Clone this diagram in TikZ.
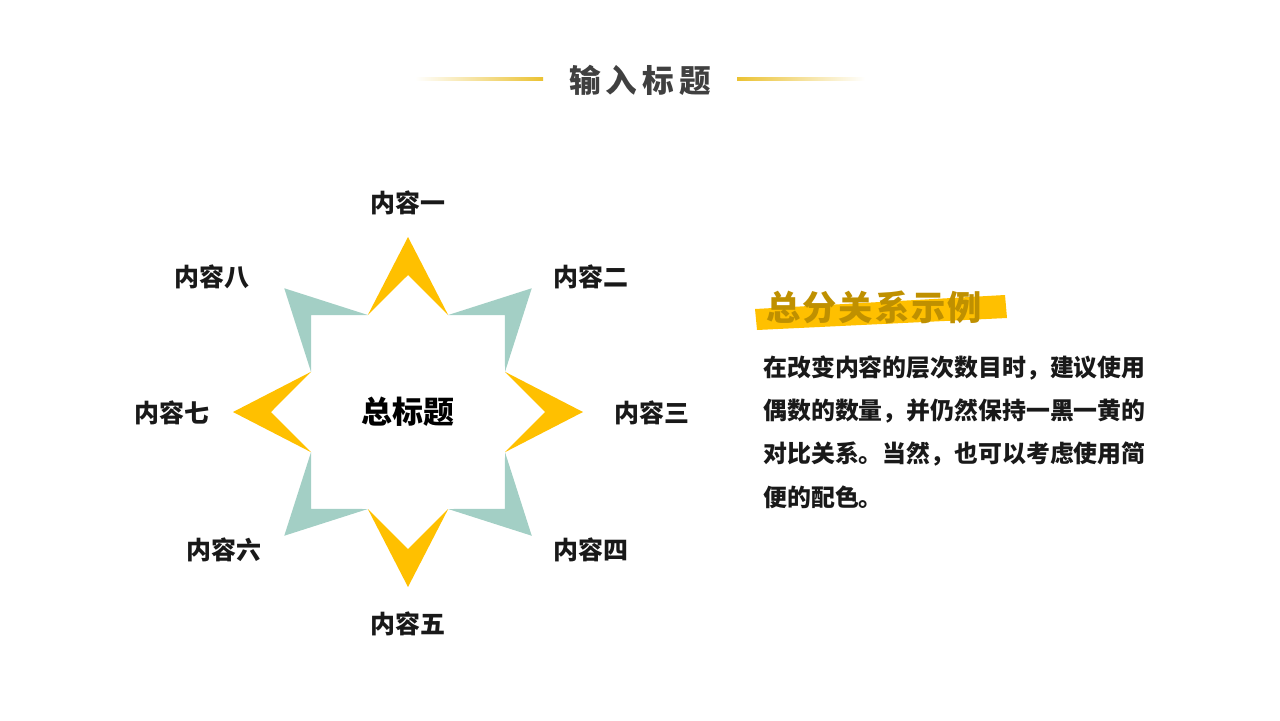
\documentclass[tikz,border=0pt]{standalone}
\usepackage{fontspec}
\setmainfont{Noto Sans CJK SC}[BoldFont={* Black}]
\definecolor{sunyellow}{HTML}{FFC000}
\definecolor{mintteal}{HTML}{A3CFC5}
\definecolor{darkgold}{HTML}{BF9000}
\definecolor{inkgray}{HTML}{404040}
\definecolor{lineyellow}{HTML}{EBC232}
\newcommand{\chev}[2]{\fill[#2] (#1:175) -- (#1-22.5:105) -- (#1:137) -- (#1+22.5:105) -- cycle;}
\tikzset{lbl/.style={font=\bfseries\fontsize{14.2}{16}\selectfont, text=black!90},
  para/.style={anchor=west, inner sep=0pt, font=\bfseries\fontsize{13.6}{16}\selectfont, text=black!90}}

\begin{document}
\begin{tikzpicture}[x=0.02cm, y=-0.02cm]
  \useasboundingbox (0,0) rectangle (1280,720);
  % heading
  \shade[left color=white, right color=lineyellow] (415,77) rectangle (543,80);
  \shade[left color=lineyellow, right color=white] (737,77) rectangle (865,80);
  \node[text=inkgray, font=\bfseries\fontsize{18}{20}\selectfont\addfontfeature{LetterSpace=16}] (head) at (640,80) {输入标题};
  % star
  \begin{scope}[shift={(408,412)}]
    \foreach \a/\c in {0/sunyellow,90/sunyellow,180/sunyellow,270/sunyellow,45/mintteal,135/mintteal,225/mintteal,315/mintteal} {\chev{\a}{\c}}
    \node[font=\bfseries\fontsize{17.6}{20}\selectfont] (main) at (0,0) {总标题};
  \end{scope}
  \node[lbl] (c1) at (408,203) {内容一};
  \node[lbl] (c2) at (591,277) {内容二};
  \node[lbl] (c3) at (652,413) {内容三};
  \node[lbl] (c4) at (591,550) {内容四};
  \node[lbl] (c5) at (408,624) {内容五};
  \node[lbl] (c6) at (224,550) {内容六};
  \node[lbl] (c7) at (172,413) {内容七};
  \node[lbl] (c8) at (212,277) {内容八};
  % side text
  \fill[sunyellow] (755,309) -- (1005,295) -- (1007,318) -- (757,330) -- cycle;
  \node[text=darkgold, font=\bfseries\fontsize{19.5}{21}\selectfont\addfontfeature{LetterSpace=6}] (sub) at (874,307) {总分关系示例};
  \node[para] (p1) at (763,368) {在改变内容的层次数目时，建议使用};
  \node[para] (p2) at (763,411) {偶数的数量，并仍然保持一黑一黄的};
  \node[para] (p3) at (763,454) {对比关系。当然，也可以考虑使用简};
  \node[para] (p4) at (763,497) {便的配色。};
\end{tikzpicture}
\end{document}
